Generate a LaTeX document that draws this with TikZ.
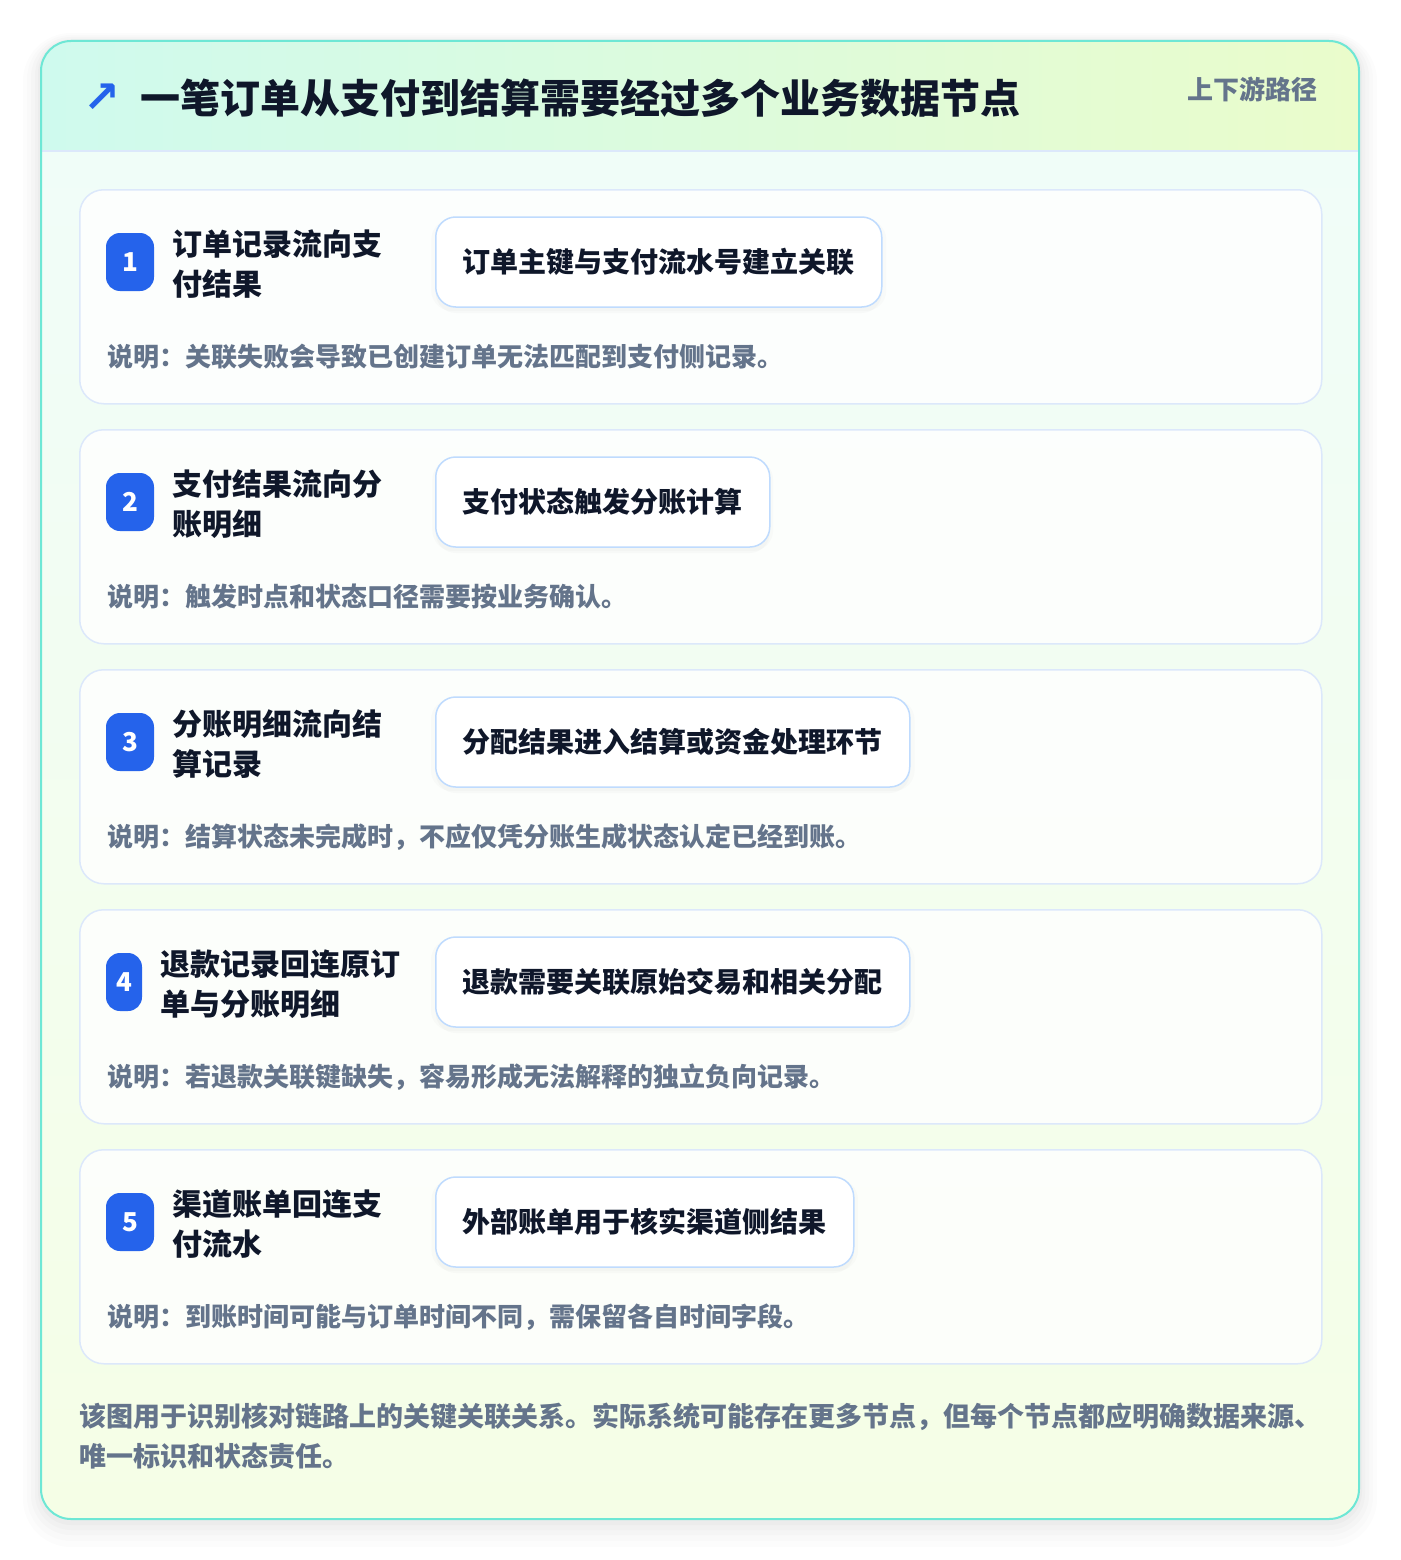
\documentclass[tikz,border=0pt]{standalone}
\usepackage{fontspec}
\setmainfont{Noto Sans CJK SC}
\newfontfamily\symfont{DejaVu Sans}
\usetikzlibrary{positioning,shadows}

\definecolor{frameteal}{HTML}{6EE7D5}
\definecolor{headmint}{HTML}{CFFAEE}
\definecolor{headlime}{HTML}{EAFCCB}
\definecolor{bodymint}{HTML}{F0FDFA}
\definecolor{bodylime}{HTML}{F5FEE6}
\definecolor{cardline}{HTML}{DCE8FB}
\definecolor{pillline}{HTML}{BFDBFE}
\definecolor{badgeblue}{HTML}{2563EB}
\definecolor{inktitle}{HTML}{0F172A}
\definecolor{inknote}{HTML}{64748B}

\begin{document}
\begin{tikzpicture}[x=1pt, y=-1pt,
    card/.style={draw=cardline, line width=1.5pt, fill=white, fill opacity=0.8,
      rounded corners=24pt, minimum width=1242pt, minimum height=214pt,
      anchor=north west, inner sep=0pt},
    badge/.style={fill=badgeblue, rounded corners=14pt, minimum width=48pt,
      minimum height=58pt, inner sep=0pt, text=white,
      font=\bfseries\fontsize{26}{26}\selectfont},
    steptitle/.style={anchor=west, align=left, inner sep=0pt, text=inktitle,
      font=\bfseries\fontsize{30}{40}\selectfont},
    pillbox/.style={anchor=west, draw=pillline, line width=1.5pt, fill=white,
      rounded corners=20pt, minimum height=90pt, inner xsep=27pt, inner ysep=0pt,
      text=inktitle, font=\bfseries\fontsize{28}{28}\selectfont,
      drop shadow={shadow xshift=0pt, shadow yshift=-6pt, opacity=0.035},
      drop shadow={shadow xshift=0pt, shadow yshift=-3pt, shadow scale=1.02, opacity=0.03}},
    stepnote/.style={anchor=west, inner sep=0pt, text=inknote,
      font=\bfseries\fontsize{26}{26}\selectfont}]
  \useasboundingbox (0,0) rectangle (1400,1560);
  \fill[white] (0,0) rectangle (1400,1560);
  % soft shadow of the frame
  \fill[black, opacity=0.010, rounded corners=48pt] (23,33) rectangle (1377,1547);
  \fill[black, opacity=0.012, rounded corners=44pt] (27,35) rectangle (1373,1541);
  \fill[black, opacity=0.014, rounded corners=40pt] (31,37) rectangle (1369,1535);
  \fill[black, opacity=0.016, rounded corners=36pt] (35,39) rectangle (1365,1530);
  \fill[black, opacity=0.018, rounded corners=33pt] (38,40) rectangle (1362,1525);
  % frame and header band
  \shade[top color=bodymint, bottom color=bodylime, rounded corners=30pt] (41,41) rectangle (1359,1519);
  \begin{scope}
    \clip[rounded corners=30pt] (41,41) rectangle (1359,1519);
    \shade[left color=headmint, right color=headlime] (41,41) rectangle (1359,151);
  \end{scope}
  \draw[cardline, line width=1.5pt] (42,151) -- (1358,151);
  \draw[frameteal, line width=2pt, rounded corners=30pt] (41,41) rectangle (1359,1519);
  \node[text=badgeblue, inner sep=0pt, font=\symfont\bfseries\fontsize{44}{44}\selectfont] (icon) at (102,98) {↗};
  \node[anchor=west, inner sep=0pt, text=inktitle, font=\bfseries\fontsize{40}{40}\selectfont]
    (title) at (140,98) {一笔订单从支付到结算需要经过多个业务数据节点};
  \node[anchor=east, inner sep=0pt, text=inknote, font=\bfseries\fontsize{26}{26}\selectfont]
    (tag) at (1318,89) {上下游路径};

  % step 1
  \node[card] (card1) at (79,189) {};
  \node[badge] (badge1) at (130,262) {1};
  \node[steptitle] (title1) at (172,264) {订单记录流向支\\付结果};
  \node[pillbox] (pill1) at (435,262) {订单主键与支付流水号建立关联};
  \node[stepnote] (note1) at (107,357) {说明：关联失败会导致已创建订单无法匹配到支付侧记录。};

  % step 2
  \node[card] (card2) at (79,429) {};
  \node[badge] (badge2) at (130,502) {2};
  \node[steptitle] (title2) at (172,504) {支付结果流向分\\账明细};
  \node[pillbox] (pill2) at (435,502) {支付状态触发分账计算};
  \node[stepnote] (note2) at (107,597) {说明：触发时点和状态口径需要按业务确认。};

  % step 3
  \node[card] (card3) at (79,669) {};
  \node[badge] (badge3) at (130,742) {3};
  \node[steptitle] (title3) at (172,744) {分账明细流向结\\算记录};
  \node[pillbox] (pill3) at (435,742) {分配结果进入结算或资金处理环节};
  \node[stepnote] (note3) at (107,837) {说明：结算状态未完成时，不应仅凭分账生成状态认定已经到账。};

  % step 4
  \node[card] (card4) at (79,909) {};
  \node[badge, minimum width=36pt] (badge4) at (124,982) {4};
  \node[steptitle] (title4) at (160,984) {退款记录回连原订\\单与分账明细};
  \node[pillbox] (pill4) at (435,982) {退款需要关联原始交易和相关分配};
  \node[stepnote] (note4) at (107,1077) {说明：若退款关联键缺失，容易形成无法解释的独立负向记录。};

  % step 5
  \node[card] (card5) at (79,1149) {};
  \node[badge] (badge5) at (130,1222) {5};
  \node[steptitle] (title5) at (172,1224) {渠道账单回连支\\付流水};
  \node[pillbox] (pill5) at (435,1222) {外部账单用于核实渠道侧结果};
  \node[stepnote] (note5) at (107,1317) {说明：到账时间可能与订单时间不同，需保留各自时间字段。};

  \node[anchor=west, align=left, inner sep=0pt, text=inknote, font=\bfseries\fontsize{27}{40}\selectfont]
    (footer) at (79,1436) {该图用于识别核对链路上的关键关联关系。实际系统可能存在更多节点，但每个节点都应明确数据来源、\\唯一标识和状态责任。};
\end{tikzpicture}
\end{document}
